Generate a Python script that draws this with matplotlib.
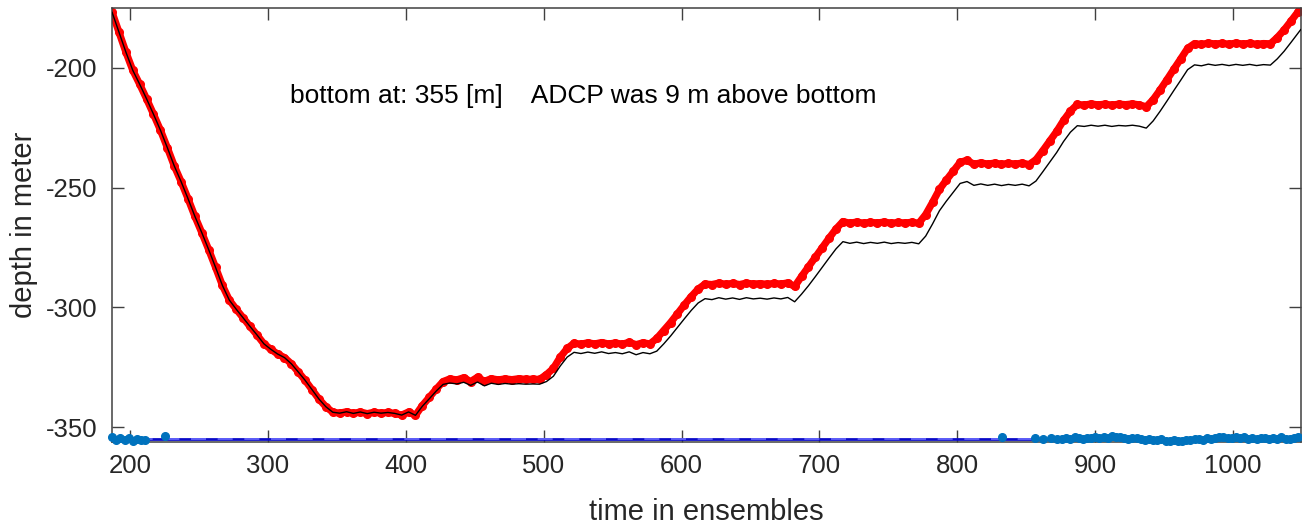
import numpy as np
import matplotlib
matplotlib.use("Agg")
import matplotlib.pyplot as plt

plt.rcParams['font.family'] = ['Liberation Sans', 'DejaVu Sans']
plt.rcParams['axes.unicode_minus'] = False

# ensemble index of each sample (every 5th ensemble, plus the last one)
ensembles = np.append(np.arange(187, 1048, 5), 1049)

# depth from ADCP (red, thick)
depth_adcp = [
    -176.9, -185.2, -193.5, -201.1, -206.9, -213.0, -219.4, -226.0, -233.3, -240.9,
    -247.5, -254.6, -262.0, -268.8, -275.9, -283.3, -290.9, -297.0, -300.8, -304.4,
    -308.0, -311.5, -315.2, -317.5, -319.5, -321.0, -323.6, -327.0, -330.5, -334.4,
    -338.3, -341.5, -343.8, -344.2, -343.6, -344.3, -343.7, -344.4, -343.8, -344.2,
    -343.9, -344.3, -345.0, -343.7, -345.1, -341.0, -337.6, -334.2, -331.0, -329.9,
    -330.3, -329.4, -331.0, -329.2, -330.9, -329.8, -330.3, -329.9, -330.2, -329.8,
    -330.1, -330.0, -330.1, -328.1, -325.5, -320.8, -317.2, -315.0, -315.4, -314.8,
    -315.3, -314.7, -315.3, -314.9, -315.4, -314.6, -315.6, -314.8, -315.3, -313.0,
    -309.7, -306.4, -302.7, -299.0, -295.5, -292.4, -290.3, -290.5, -289.9, -290.4,
    -290.0, -290.5, -289.9, -290.3, -290.1, -290.4, -290.0, -290.3, -289.8, -291.3,
    -287.1, -283.1, -279.1, -275.1, -271.1, -267.3, -264.2, -264.9, -264.4, -264.9,
    -264.5, -264.8, -264.4, -264.9, -264.6, -264.8, -264.5, -264.9, -261.3, -256.2,
    -250.8, -246.9, -243.2, -239.5, -238.6, -240.3, -239.7, -240.2, -239.8, -240.3,
    -239.9, -240.2, -239.8, -240.4, -238.4, -234.6, -230.6, -226.6, -222.0, -218.1,
    -215.3, -215.6, -215.1, -215.5, -215.2, -215.6, -215.2, -215.4, -215.1, -215.5,
    -216.3, -213.3, -209.3, -205.0, -200.6, -196.3, -191.9, -189.9, -190.3, -189.7,
    -190.1, -189.8, -190.2, -189.7, -190.1, -189.8, -190.2, -189.9, -190.0, -187.4,
    -184.2, -180.5, -176.7, -175.2,
]

# depth from pressure sensor (black, thin)
depth_pressure = [
    -176.9, -185.2, -193.5, -201.1, -206.9, -213.0, -219.4, -226.0, -233.3, -240.9,
    -247.5, -254.6, -262.0, -268.8, -275.9, -283.3, -290.9, -297.0, -300.8, -304.4,
    -308.0, -311.5, -315.2, -317.5, -319.5, -321.0, -323.6, -327.0, -330.5, -334.4,
    -338.3, -341.5, -343.8, -344.2, -343.6, -344.3, -343.7, -344.4, -343.8, -344.2,
    -343.9, -344.3, -345.0, -343.7, -345.1, -341.3, -338.2, -335.0, -332.2, -331.6,
    -332.0, -331.3, -332.6, -331.2, -332.8, -331.7, -332.2, -331.8, -332.1, -331.9,
    -332.1, -332.0, -332.1, -331.0, -328.8, -324.5, -320.8, -318.8, -319.3, -318.7,
    -319.2, -318.6, -319.3, -318.9, -319.4, -318.6, -319.8, -318.9, -319.4, -318.3,
    -315.3, -312.0, -308.4, -304.8, -301.3, -298.2, -296.4, -296.8, -296.0, -296.6,
    -296.1, -296.7, -296.0, -296.5, -296.2, -296.6, -296.1, -296.5, -295.9, -297.7,
    -294.5, -291.0, -287.2, -283.3, -279.4, -275.6, -272.6, -273.3, -272.8, -273.4,
    -272.9, -273.3, -272.8, -273.4, -273.0, -273.3, -272.9, -273.5, -270.3, -265.2,
    -259.7, -255.7, -252.0, -248.3, -247.5, -249.1, -248.5, -249.1, -248.6, -249.2,
    -248.7, -249.1, -248.6, -249.3, -247.3, -243.4, -239.4, -235.4, -230.8, -226.9,
    -224.2, -224.5, -224.0, -224.4, -224.0, -224.5, -224.1, -224.3, -224.0, -224.4,
    -225.2, -222.2, -218.2, -213.9, -209.5, -205.2, -200.8, -198.8, -199.2, -198.5,
    -199.0, -198.6, -199.1, -198.6, -199.0, -198.6, -199.1, -198.7, -198.9, -196.3,
    -193.1, -189.4, -185.6, -184.1,
]

bottom_depth = -355.0

# bottom detections (blue dots)
bt_x = [187, 190, 193, 196, 199, 202, 205, 208, 211, 225,
        832.6, 856, 862, 868, 872,
        876, 879, 882, 885, 888, 891, 894, 897, 900,
        903, 906, 909, 912, 915, 918, 921, 924, 927, 930,
        933, 936, 939, 942, 945, 948, 951, 954, 957, 960,
        963, 966, 969, 972, 975, 978, 981, 984, 987, 990,
        993, 996, 999, 1002, 1005, 1008, 1011, 1014, 1017, 1020,
        1023, 1026, 1029, 1032, 1035, 1038, 1041, 1044, 1047]
bt_y = [-354.3, -355.6, -354.5, -355.2, -354.6, -355.8, -355.1, -355.5, -355.3, -353.9,
        -354.1, -354.6, -354.9, -354.7, -355.0,
        -354.8, -354.5, -355.0, -354.3, -354.6, -354.9, -354.4, -354.7, -354.2,
        -354.5, -354.1, -354.6, -353.9, -354.3, -354.0, -354.5, -354.8, -354.4, -354.7,
        -354.9, -355.2, -354.8, -355.3, -355.6, -355.1, -355.8, -356.0, -355.4, -355.7,
        -355.9, -355.3, -355.5, -355.0, -354.8, -355.2, -354.6, -354.9, -354.5, -354.3,
        -354.0, -354.4, -354.7, -354.2, -354.6, -354.3, -354.8, -354.5, -354.9, -354.4,
        -354.7, -355.0, -354.6, -354.9, -354.3, -354.8, -355.1, -354.5, -354.2]

assert len(ensembles) == len(depth_adcp) == len(depth_pressure)
assert len(bt_x) == len(bt_y)

annotation = "bottom at: 355 [m]    ADCP was 9 m above bottom"

fig = plt.figure(figsize=(13.02, 5.27), dpi=100)
ax = fig.add_axes([0.0858, 0.1619, 0.9132, 0.8223])

ax.plot(ensembles, depth_adcp, color='#ff0000', lw=5.2, solid_capstyle='round',
        marker='o', ms=5.5, mec='#ff0000', mfc='#ff0000', zorder=2)
ax.plot(ensembles, depth_pressure, color='black', lw=1.0, zorder=3)
xb = [ensembles[0] - 1, ensembles[-1] + 1]
ax.plot(xb, [bottom_depth, bottom_depth], color='#0a0ac8', lw=2.0, zorder=4)
ax.plot(xb, [bottom_depth, bottom_depth], color='#6a6aff', lw=1.2,
        dashes=(9, 7), zorder=5)
ax.plot(bt_x, bt_y, linestyle='none', marker='o', ms=5.5, color='#0072bd',
        zorder=6, clip_on=False)

ax.text(316, -214.9, annotation, fontsize=19, color='black',
        ha='left', va='baseline')

ax.set_xlim(186.7, 1049)
ax.set_ylim(-356.1, -175.2)
ax.set_xticks([200, 300, 400, 500, 600, 700, 800, 900, 1000])
ax.set_yticks([-350, -300, -250, -200])

axcol = '#262626'
for s in ax.spines.values():
    s.set_color('#404040')
    s.set_linewidth(1.1)
ax.tick_params(axis='both', which='major', direction='in', length=8.6,
               width=1.0, color='#404040', labelcolor=axcol, labelsize=18.5,
               top=True, right=True)
ax.tick_params(axis='x', pad=9)
ax.tick_params(axis='y', pad=10)

ax.set_xlabel('time in ensembles', fontsize=21, color=axcol)
ax.set_ylabel('depth in meter', fontsize=21, color=axcol)
ax.xaxis.set_label_coords(0.5, -0.13)
ax.yaxis.set_label_coords(-0.062, 0.5)

fig.savefig('out.png', dpi=100)
